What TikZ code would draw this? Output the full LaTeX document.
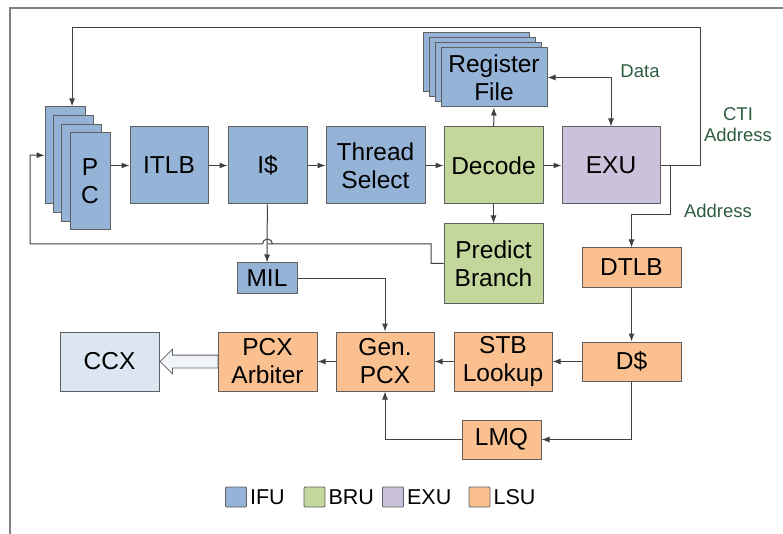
\documentclass[tikz,border=0pt]{standalone}
\usepackage{fontspec}
\setmainfont{Liberation Sans}
\usetikzlibrary{arrows.meta, positioning, shapes.arrows}

\definecolor{ifucol}{RGB}{149,179,215}
\definecolor{brucol}{RGB}{195,214,155}
\definecolor{exucol}{RGB}{204,193,218}
\definecolor{lsucol}{RGB}{250,192,144}
\definecolor{ccxcol}{RGB}{220,230,242}
\definecolor{edgegray}{RGB}{95,95,95}
\definecolor{wiregray}{RGB}{64,64,64}
\definecolor{lblgreen}{RGB}{46,92,64}

\begin{document}
\begin{tikzpicture}[x=1pt, y=-1pt, >={Latex[length=8pt,width=6pt]},
    blk/.style={draw=edgegray, line width=1pt, align=center, inner sep=0pt,
      font=\fontsize{24.5}{28}\selectfont},
    ifu/.style={blk, fill=ifucol},
    bru/.style={blk, fill=brucol},
    exu/.style={blk, fill=exucol},
    lsu/.style={blk, fill=lsucol},
    wire/.style={draw=wiregray, line width=1pt},
    lbl/.style={text=lblgreen, align=center, font=\fontsize{18.5}{21}\selectfont},
    key/.style={draw=edgegray, line width=0.8pt, rounded corners=1pt, minimum width=21pt, minimum height=20pt},
    keytext/.style={right=3pt of #1, inner sep=0pt, font=\fontsize{21.5}{24}\selectfont}]
  \useasboundingbox (0,0) rectangle (783,534);
  \draw[gray, line width=1.5pt] (783,8) -- (10,8) -- (10,534);

  % stacked cards
  \foreach \i in {3,2,1}
    \node[ifu, minimum width=40pt, minimum height=97pt] (pc\i) at ({90-8.3*\i},{181.5-8.7*\i}) {};
  \node[ifu, minimum width=40pt, minimum height=97pt] (pc0) at (90,181.5) {P\\C};
  \foreach \i in {3,2,1}
    \node[ifu, minimum width=106pt, minimum height=59pt] (rf\i) at ({494-6*\i},{77.5-5*\i}) {};
  \node[ifu, minimum width=106pt, minimum height=59pt] (rf0) at (494,77.5) {Register\\File};

  \node[ifu, minimum width=78pt, minimum height=77pt] (itlb) at (169,165.5) {ITLB};
  \node[ifu, minimum width=79pt, minimum height=77pt] (icache) at (267.5,165.5) {I\$};
  \node[ifu, minimum width=99pt, minimum height=77pt] (tsel) at (375.5,165.5) {Thread\\Select};
  \node[bru, minimum width=99pt, minimum height=77pt] (dec) at (493.5,165.5) {Decode};
  \node[exu, minimum width=98pt, minimum height=77pt] (exu) at (611,165.5) {EXU};
  \node[bru, minimum width=99pt, minimum height=79pt] (pb) at (493.5,263.5) {Predict\\Branch};
  \node[ifu, minimum width=60pt, minimum height=30pt] (mil) at (267,278) {MIL};
  \node[lsu, minimum width=99pt, minimum height=39pt] (dtlb) at (631.5,267.5) {DTLB};
  \node[lsu, minimum width=99pt, minimum height=39pt] (dc) at (631.5,361.5) {D\$};
  \node[lsu, minimum width=98pt, minimum height=59pt] (stb) at (503,361.5) {STB\\Lookup};
  \node[lsu, minimum width=98pt, minimum height=59pt] (gen) at (385,361.5) {Gen.\\PCX};
  \node[lsu, minimum width=99pt, minimum height=59pt] (arb) at (267.5,361.5) {PCX\\Arbiter};
  \node[blk, fill=ccxcol, minimum width=99pt, minimum height=59pt] (ccx) at (109.5,361.5) {CCX};
  \node[lsu, minimum width=79pt, minimum height=39pt] (lmq) at (501.5,439.5) {LMQ};

  \node[single arrow, draw=edgegray, line width=0.8pt, fill=ccxcol!40!white, shape border rotate=180,
    minimum height=58pt, single arrow head extend=6pt, inner sep=6pt, anchor=tip] (carr) at (ccx.east) {};

  \node[lbl] (ldata) at (640,71) {Data};
  \node[lbl] (lcti) at (738,125) {CTI\\Address};
  \node[lbl] (laddr) at (718,211) {Address};

  \coordinate (ctitop) at (700,28);
  \coordinate (addr) at (670,215);
  \coordinate (fbk) at (431,244);

  \draw[wire, ->] (pc0.east |- itlb.west) -- (itlb.west);
  \draw[wire, ->] (itlb) -- (icache);
  \draw[wire, ->] (icache) -- (tsel);
  \draw[wire, ->] (tsel) -- (dec);
  \draw[wire, ->] (dec) -- (exu);
  \draw[wire, ->] (dec) -- (rf0);
  \draw[wire, ->] (dec) -- (pb);
  \draw[wire, <->] (rf0.east) -| (exu.north);
  \draw[wire, ->] (exu.east) -| (ctitop) -| ([xshift=7pt]pc3.north);
  \draw[wire, ->] (exu.east -| addr) -- (addr) -| (dtlb.north);
  \draw[wire, ->] (pb.west) -| (fbk) -- (icache.south |- fbk) ++(5,0)
    arc[start angle=0, end angle=-180, radius=5] -| (30,155) -- (pc3.west);
  \draw[wire, ->] (icache) -- (mil);
  \draw[wire, ->] (mil.east) -| (gen.north);
  \draw[wire, ->] (dtlb) -- (dc);
  \draw[wire, ->] (dc) -- (stb);
  \draw[wire, ->] (stb) -- (gen);
  \draw[wire, ->] (gen) -- (arb);
  \draw[wire, ->] (dc.south) |- (lmq.east);
  \draw[wire, ->] (lmq.west) -| (gen.south);

  % legend
  \node[key, fill=ifucol] (kifu) at (236,497) {};
  \node[keytext=kifu] (tifu) {IFU};
  \node[key, fill=brucol] (kbru) at (314.5,497) {};
  \node[keytext=kbru] (tbru) {BRU};
  \node[key, fill=exucol] (kexu) at (393,497) {};
  \node[keytext=kexu] (texu) {EXU};
  \node[key, fill=lsucol] (klsu) at (479.5,497) {};
  \node[keytext=klsu] (tlsu) {LSU};
\end{tikzpicture}
\end{document}
